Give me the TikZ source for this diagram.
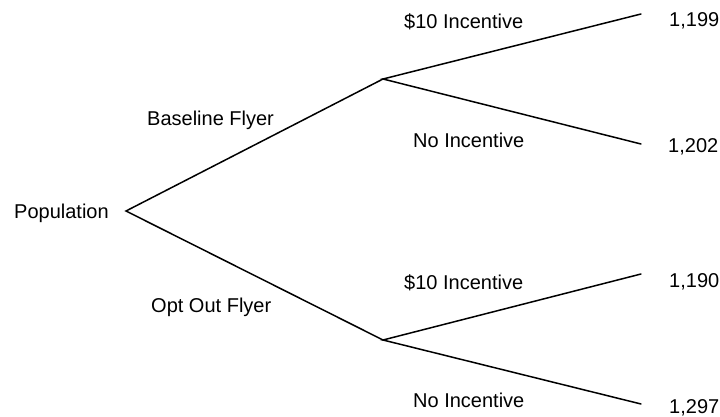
\documentclass[tikz,border=0pt]{standalone}
\usepackage{fontspec}
\setmainfont{Liberation Sans}
\begin{document}
\begin{tikzpicture}[x=1pt,y=-1pt,
  lbl/.style={font=\fontsize{20}{24}\selectfont, inner sep=0pt, anchor=base west},
  branch/.style={line width=1.5pt, line cap=round}]
\useasboundingbox (0,0) rectangle (720,417);
% branch points
\coordinate (root) at (126,211);
\coordinate (base) at (383,79);
\coordinate (opt) at (383,340);
\coordinate (e1) at (641,14);
\coordinate (e2) at (641,144);
\coordinate (e3) at (641,274);
\coordinate (e4) at (641,404);
% connectors
\draw[branch] (e1) -- (base) -- (e2);
\draw[branch] (base) -- (root) -- (opt);
\draw[branch] (e3) -- (opt) -- (e4);
% labels
\node[lbl] (pop) at (14,218) {Population};
\node[lbl] (bf) at (147,125) {Baseline Flyer};
\node[lbl] (of) at (151,312) {Opt Out Flyer};
\node[lbl] (i1) at (404,29) {\$10 Incentive};
\node[lbl] (n1) at (413,147) {No Incentive};
\node[lbl] (i2) at (404,289) {\$10 Incentive};
\node[lbl] (n2) at (413,407) {No Incentive};
\node[lbl] (v1) at (669,27) {1,199};
\node[lbl] (v2) at (668,153) {1,202};
\node[lbl] (v3) at (669,287) {1,190};
\node[lbl] (v4) at (669,413) {1,297};
\end{tikzpicture}
\end{document}
